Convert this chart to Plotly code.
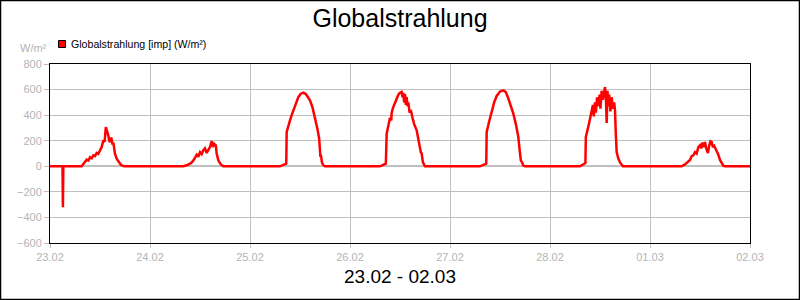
import datetime as dt
import plotly.graph_objects as go

# ---- data (hours since local midnight, W/m²) ----
day_dates = ["2025-02-23", "2025-02-24", "2025-02-25", "2025-02-26",
             "2025-02-27", "2025-02-28", "2025-03-01", "2025-03-02"]

hours_d0 = [0, 3.0, 3.1, 3.2, 7.6, 8.2, 8.8, 9.2, 9.6, 10.0, 10.4, 10.8, 11.2, 11.6, 12.0, 12.4,
            12.8, 13.1, 13.4, 13.7, 14.0, 14.2, 14.4, 14.7, 15.0, 15.2, 15.4, 15.6, 16.0, 16.4, 17.0, 17.6, 18.0]
values_d0 = [0, 0, -320, 0, 0, 25, 52, 45, 70, 62, 86, 80, 105, 98, 125, 150,
             203, 190, 307, 280, 242, 200, 190, 225, 170, 185, 130, 99, 60, 39, 12, 2, 0]

hours_d1 = [8.0, 9.0, 10.0, 10.6, 11.2, 11.6, 12.0, 12.4, 12.8, 13.2, 13.6, 14.0, 14.4, 14.8,
            15.1, 15.4, 15.8, 16.0, 16.4, 17.0, 17.6]
values_d1 = [0, 10, 30, 55, 91, 75, 110, 95, 125, 140, 104, 130, 150, 198,
             150, 175, 164, 100, 47, 15, 0]

hours_d2 = [7.2, 8.7, 8.8, 9.2, 9.6, 10.0, 10.4, 11.0, 11.6, 12.2, 12.8, 13.4, 14.0, 14.4, 15.0,
            15.6, 16.2, 16.6, 16.7, 16.8, 16.9, 17.0, 17.3, 17.7, 18.0]
values_d2 = [0, 20, 268, 320, 359, 400, 437, 495, 541, 568, 576, 565, 535, 516, 460,
             385, 290, 216, 120, 140, 73, 90, 25, 5, 0]

hours_d3 = [7.2, 8.6, 8.8, 9.2, 9.6, 9.9, 10.0, 10.3, 10.5, 10.8, 11.2, 11.6, 12.0, 12.4, 12.6, 12.8,
            13.0, 13.2, 13.4, 13.6, 13.8, 14.0, 14.3, 14.6, 15.0, 15.4, 16.0, 16.4, 16.8, 17.0,
            17.2, 17.5, 18.0]
values_d3 = [0, 20, 255, 320, 380, 359, 420, 455, 470, 500, 520, 560, 575, 582, 540, 575,
             500, 565, 480, 540, 470, 500, 420, 440, 380, 330, 281, 200, 140, 110,
             100, 30, 0]

hours_d4 = [7.2, 8.7, 8.8, 9.4, 10.0, 10.6, 11.2, 12.0, 12.8, 13.4, 14.0, 14.6, 15.2, 15.8, 16.4,
            16.7, 16.8, 16.9, 17.0, 17.3, 17.6, 18.0]
values_d4 = [0, 20, 268, 350, 430, 500, 550, 585, 594, 580, 530, 470, 412, 330, 229,
             130, 70, 110, 47, 30, 5, 0]

hours_d5 = [7.2, 8.5, 8.6, 9.2, 9.6, 10.0, 10.3, 10.5, 10.8, 11.0, 11.3, 11.6, 11.9, 12.1, 12.4,
            12.7, 13.0, 13.2, 13.4, 13.6, 13.8, 14.0, 14.2, 14.5, 14.8, 15.1, 15.4, 15.6, 15.8,
            16.0, 16.4, 16.8, 17.5]
values_d5 = [0, 25, 229, 310, 370, 412, 480, 390, 500, 420, 540, 470, 560, 450, 590,
             520, 600, 620, 560, 338, 590, 470, 560, 430, 540, 450, 500, 437, 250,
             112, 60, 30, 0]

hours_d6 = [7.6, 8.4, 9.0, 9.6, 10.0, 10.4, 10.8, 11.2, 11.6, 12.0, 12.3, 12.6, 12.9, 13.2, 13.5,
            13.9, 14.2, 14.5, 14.8, 15.1, 15.4, 15.7, 16.0, 16.4, 16.8, 17.2, 17.6, 18.0]
values_d6 = [0, 15, 35, 50, 80, 86, 110, 100, 150, 164, 140, 185, 150, 190, 140,
             104, 160, 195, 190, 150, 160, 140, 125, 90, 50, 21, 5, 0]

hours_d7 = [0]
values_d7 = [0]

all_hours = [hours_d0, hours_d1, hours_d2, hours_d3, hours_d4, hours_d5, hours_d6, hours_d7]
all_values = [values_d0, values_d1, values_d2, values_d3, values_d4, values_d5, values_d6, values_d7]

y_ticks = [-600, -400, -200, 0, 200, 400, 600, 800]
x_tick_dates = day_dates

# ---- build series ----
xs, ys = [], []
for d, hs, vs in zip(day_dates, all_hours, all_values):
    base = dt.datetime.fromisoformat(d)
    for h, v in zip(hs, vs):
        xs.append(base + dt.timedelta(hours=h))
        ys.append(v)

FONT = "Arial, Liberation Sans, sans-serif"
GRAY = "#b4b4b4"

fig = go.Figure()
fig.add_trace(go.Scatter(x=xs, y=ys, mode="lines",
                         line=dict(color="#ff0000", width=2.5, shape="linear"),
                         showlegend=False, name="Globalstrahlung [imp] (W/m²)"))

fig.update_layout(
    width=800, height=300,
    margin=dict(l=50, r=50, t=64, b=57),
    paper_bgcolor="white", plot_bgcolor="white",
    font=dict(family=FONT, size=11, color=GRAY),
    title=dict(text="Globalstrahlung", x=0.5, xanchor="center", y=0.94, yanchor="middle",
               font=dict(family=FONT, size=25, color="black")),
    showlegend=False,
)

fig.update_xaxes(
    type="date",
    range=[day_dates[0], day_dates[-1]],
    tickvals=x_tick_dates, tickformat="%d.%m",
    showgrid=True, gridcolor="#c0c0c0", gridwidth=1,
    ticks="outside", ticklen=4, tickcolor="#c0c0c0",
    showline=True, linecolor="black", linewidth=1, mirror=True,
    tickfont=dict(family=FONT, size=11, color=GRAY),
    zeroline=False,
)
fig.update_yaxes(
    range=[-600, 800], tickvals=y_ticks,
    showgrid=True, gridcolor="#c0c0c0", gridwidth=1,
    ticks="outside", ticklen=5, tickcolor="#c0c0c0",
    showline=True, linecolor="black", linewidth=1, mirror=True,
    tickfont=dict(family=FONT, size=11, color=GRAY),
    zeroline=True, zerolinecolor="#c0c0c0", zerolinewidth=2,
)

# outer frame
fig.add_shape(type="rect", xref="paper", yref="paper",
              x0=-50 / 700 + 0.5 / 700, x1=750 / 700 - 0.5 / 700,
              y0=-57 / 179 + 0.5 / 179, y1=243 / 179 - 0.5 / 179,
              line=dict(color="black", width=1.5), layer="above")

# legend (square + text)
fig.add_shape(type="rect", xref="paper", yref="paper",
              x0=8.5 / 700, x1=15.5 / 700, y0=(243 - 47.5) / 179, y1=(243 - 40.5) / 179,
              fillcolor="#ff0000", line=dict(color="black", width=1))
fig.add_annotation(text="Globalstrahlung [imp] (W/m²)", xref="paper", yref="paper",
                   x=18.5 / 700, y=(243 - 44.5) / 179, xanchor="left", yanchor="middle",
                   showarrow=False, font=dict(family=FONT, size=10.6, color="black"))
# unit label
fig.add_annotation(text="W/m²", xref="paper", yref="paper",
                   x=-1.5 / 700, y=(243 - 48.5) / 179, xanchor="right", yanchor="middle",
                   showarrow=False, font=dict(family=FONT, size=11, color=GRAY))
# bottom range label
fig.add_annotation(text="23.02 - 02.03", xref="paper", yref="paper",
                   x=0.5, y=(243 - 276) / 179, xanchor="center", yanchor="middle",
                   showarrow=False, font=dict(family=FONT, size=19, color="black"))

fig.write_html("out.html")
